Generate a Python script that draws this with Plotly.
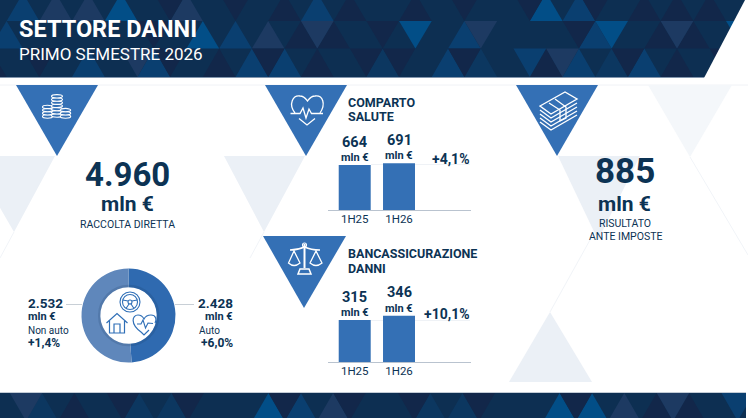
import re
import plotly.graph_objects as go

W, H = 748, 418

# chart values
periods = ["1H25", "1H26"]
salute_values = [664, 691]
banca_values = [315, 346]
salute_growth = "+4,1%"
banca_growth = "+10,1%"
donut_labels = ["Auto", "Non auto"]
donut_values = [2428, 2532]
donut_growth = ["+6,0%", "+1,4%"]
raccolta = "4.960"
risultato = "885"

NAVY = "#0c3354"
BLUE = "#3470b5"
PALE = "#ebf0f6"
FONT = "Roboto"

DARK, MID, BRIGHT, LBLUE, SLATE = "#12274a", "#0c3760", "#024e87", "#0a3f70", "#1d3a62"
HEADER_BASE = "#0d2f52"

# header mosaic: row -> direction -> colour -> rough apex x
header_up = {
    0: {LBLUE: [32, 318, 575], SLATE: [64, 97, 190], BRIGHT: [127, 543], DARK: [287, 349, 413, 641, 671, 703]},
    1: {LBLUE: [15, 235, 463, 585], BRIGHT: [204], SLATE: [268], DARK: [302, 333, 648, 688]},
    2: {DARK: [-10, 215, 318, 543, 671], LBLUE: [95, 160, 250, 287, 447, 575, 640], MID: [383, 480, 606]},
}
header_down = {
    0: {DARK: [160, 240, 463, 526, 593]},
    1: {DARK: [150, 383, 575], SLATE: [318, 479, 671], BRIGHT: [415, 607, 727]},
    2: {DARK: [30, 55, 183, 271, 367, 400, 463, 624, 716], SLATE: [140, 559], LBLUE: [527]},
}
footer_up = {MID: [47, 140, 172, 432, 462], DARK: [75, 660, 691], BRIGHT: [269, 556, 587], LBLUE: [302], SLATE: [334, 619]}
footer_down = {SLATE: [28, 670], DARK: [123, 190, 287, 350, 417, 477, 574], LBLUE: [736]}


def px(x):
    return x / W


def py(y):
    return 1 - y / H


def to_paper(d):
    # pixel svg path -> paper coordinates, only absolute M L C Q Z
    nums = iter(range(100000))

    def conv(m):
        v = float(m.group(0))
        return f"{px(v):.5f}" if next(nums) % 2 == 0 else f"{py(v):.5f}"

    return re.sub(r"-?\d+\.?\d*", conv, d)


shapes = []


def poly(points, color):
    d = "M " + " L ".join(f"{x} {y}" for x, y in points) + " Z"
    shapes.append(dict(type="path", path=to_paper(d), xref="paper", yref="paper",
                       fillcolor=color, line=dict(width=0), layer="below"))


def stroke(d, color="white", width=1.3, layer="above"):
    shapes.append(dict(type="path", path=to_paper(d), xref="paper", yref="paper",
                       line=dict(color=color, width=width), layer=layer))


def hline(x0, x1, y, color, width=1):
    shapes.append(dict(type="line", xref="paper", yref="paper", x0=px(x0), x1=px(x1), y0=py(y), y1=py(y),
                       line=dict(color=color, width=width), layer="below"))


def ellipse(cx, cy, rx, ry, color="white", width=1.2, fill=None):
    shapes.append(dict(type="circle", xref="paper", yref="paper", x0=px(cx - rx), x1=px(cx + rx),
                       y0=py(cy + ry), y1=py(cy - ry), line=dict(color=color, width=width),
                       fillcolor=fill, layer="above"))


def circle(cx, cy, r, color="white", width=1.2, fill=None):
    ellipse(cx, cy, r, r, color, width, fill)


# header
ROWS = [(-7, 21), (21, 48.5), (48.5, 77)]
PITCH = 32.7


def snap(x, start, pitch):
    return start + round((x - start) / pitch) * pitch


poly([(0, 0), (W, 0), (W, 77), (0, 77)], HEADER_BASE)
for row, (top, bottom) in enumerate(ROWS):
    up_start = 6.6 if row == 1 else 23
    down_start = 23 if row == 1 else 6.6
    for color, apexes in header_up[row].items():
        for a in apexes:
            a = snap(a, up_start, PITCH)
            poly([(a, top), (a + PITCH / 2, bottom), (a - PITCH / 2, bottom)], color)
    for color, apexes in header_down[row].items():
        for a in apexes:
            a = snap(a, down_start, PITCH)
            poly([(a, bottom), (a + PITCH / 2, top), (a - PITCH / 2, top)], color)
poly([(745, 0), (W, 0), (W, 78), (704, 78)], "white")
poly([(0, 77), (704.5, 77), (704, 78), (0, 78)], "#8195ad")
hline(0, W, 85, "#f0f2f6")

# footer
poly([(0, 393), (W, 393), (W, H), (0, H)], HEADER_BASE)
for color, apexes in footer_up.items():
    for a in apexes:
        a = snap(a, 42, 32.35)
        poly([(a, 393), (a + 16.2, 421), (a - 16.2, 421)], color)
for color, apexes in footer_down.items():
    for a in apexes:
        a = snap(a, 26, 32.35)
        poly([(a, 421), (a + 16.2, 393), (a - 16.2, 393)], color)
poly([(746, 392), (W, 392), (W, H), (746, H)], "white")
hline(0, 746, 392.5, "#c3ccd6")

# pale background triangles
poly([(-30, 156), (55, 156), (14, 232)], PALE)
poly([(224, 156), (305, 156), (264, 232)], PALE)
poly([(558, 156), (640, 156), (598, 240)], PALE)
poly([(648, 85), (732, 85), (690, 157)], "#f4f7fa")
poly([(550, 312), (592, 382), (509, 382)], PALE)
for d in ["M 690 157 L 748 255", "M 550 312 L 590 240", "M 14 232 L 0 258", "M 264 232 L 250 258"]:
    stroke(d, "#f1f4f8", 1, "below")

# blue triangles
poly([(16, 85), (98, 85), (57, 156)], BLUE)
poly([(265, 85), (347, 85), (306, 156)], BLUE)
poly([(516, 85), (598, 85), (557, 156)], BLUE)
poly([(263, 236), (346, 236), (304, 308)], BLUE)

# coins icon, three stacks drawn from the bottom up
for cx, rx, y_bottom, n in [(47.5, 5, 116.5, 4), (57, 5.5, 115.5, 7), (65.5, 5.2, 116.5, 3)]:
    for i in range(n):
        ellipse(cx, y_bottom - i * 3.2, rx, 1.7, width=1.1, fill=BLUE)

# heart icon
stroke("M 295 113 C 288 104 293 95 300 96 C 304 96 306 99 307.5 101 C 309 99 311 96 315 96 "
       "C 323 95 326 104 320 113")
stroke("M 290.5 113.5 L 300 113.5 L 303 108 L 306 118 L 309 109 L 311.5 113.5 L 323 113.5")
stroke("M 299 118.5 L 307 125 L 315 118.5")

# scales icon
stroke("M 304.5 244 L 304.5 268", width=2)
stroke("M 290 250 Q 298 250 304.5 247 Q 311 250 320 250", width=1.6)
stroke("M 294 251 L 288.5 263 Q 294 268 300 263 Z")
stroke("M 316 251 L 310 263 Q 316 268 322 263 Z")
stroke("M 298 274 L 311 274 L 309 269 L 300 269 Z", width=1.5)
circle(304.5, 245, 2, width=1.1)

# money icon
stroke("M 540 106 L 565 92 L 577 99 L 551 114 Z", width=1.4)
for dy in [4, 8, 12, 16]:
    stroke(f"M 540 {106 + dy} L 551 {114 + dy} L 577 {99 + dy}", width=1.4)
stroke("M 555 99 L 566 107 L 566 118 L 560 121 L 560 110 L 549 103", width=1.3)

# donut inner ring and icons
ICON = "#2f6fb7"
circle(128.7, 315.5, 29.5, color="rgba(20,50,90,0.16)", width=2.5)
circle(130, 302, 10, color=ICON, width=1.1)
circle(130, 302, 7.5, color=ICON, width=1.1)
circle(130, 302, 2, color=ICON, width=1.1)
stroke("M 122.8 300 L 128 301 M 137.2 300 L 132 301 M 129 304 L 126 308.5 M 131 304 L 134 308.5", ICON, 1.1)
stroke("M 106.5 323 L 117 313.5 L 127.5 323 M 109.5 321 L 109.5 333 L 124.5 333 L 124.5 321 "
       "M 114 333 L 114 324 L 120 324 L 120 333", ICON, 1.2)
stroke("M 141 332 C 130 324 132 315 138 315 C 141 315 143 317 144 319 C 145 317 148 315 151 315 "
       "C 156 315 157 320 155 323 M 141 332 L 144 335 L 149 330", ICON, 1.2)
stroke("M 137 324 L 141 324 L 143 320 L 145.5 328 L 148 323 L 153 323.5", ICON, 1.1)

# connector lines, faint lines at bar tops
hline(66, 82, 304.5, "#c8cfd6")
hline(175, 194, 304.5, "#c8cfd6")
hline(371, 470, 164.5, "#eff2f6")
hline(371, 470, 320.5, "#eff2f6")

annotations = []


def label(x, y, text, size, bold=False, anchor="center", color=NAVY):
    annotations.append(dict(x=px(x), y=py(y), xref="paper", yref="paper", text=f"<b>{text}</b>" if bold else text,
                            showarrow=False, xanchor=anchor, yanchor="middle", borderpad=0,
                            font=dict(family=FONT, size=size, color=color)))


label(18, 29, "SETTORE DANNI", 23.5, True, "left", "white")
label(18, 54, "PRIMO SEMESTRE 2026", 17, False, "left", "white")

label(127, 174, raccolta, 33, True)
label(127, 204, "mln €", 21, True)
label(128, 224, "RACCOLTA DIRETTA", 10.5)

label(625, 171, risultato, 35, True)
label(624, 204, "mln €", 21, True)
label(625, 223.5, "RISULTATO", 10.5)
label(625, 236.5, "ANTE IMPOSTE", 10.5)

label(347, 102, "COMPARTO", 12.5, True, "left")
label(347, 117, "SALUTE", 12.5, True, "left")
label(347, 253, "BANCASSICURAZIONE", 12.5, True, "left")
label(347, 268, "DANNI", 12.5, True, "left")

label(471, 159, salute_growth, 14, True, "right")
label(471, 314, banca_growth, 14, True, "right")

# donut side labels
label(27, 303, f"{donut_values[1]:,}".replace(",", "."), 13.5, True, "left")
label(27, 316, "mln €", 11, True, "left")
label(27, 330, donut_labels[1], 10, False, "left")
label(27, 343, donut_growth[1], 12, True, "left")
label(234, 303, f"{donut_values[0]:,}".replace(",", "."), 13.5, True, "right")
label(234, 316, "mln €", 11, True, "right")
label(198, 330, donut_labels[0], 10, False, "left")
label(234, 343, donut_growth[0], 12, True, "right")

fig = go.Figure()

fig.add_trace(go.Pie(labels=donut_labels, values=donut_values, hole=0.6, sort=False, direction="clockwise",
                     rotation=0, textinfo="none", showlegend=False,
                     marker=dict(colors=["#2f6ab0", "#5f87bb"], line=dict(width=0)),
                     domain=dict(x=[px(81.5), px(175.5)], y=[py(362.5), py(268.5)])))

# bar panels
panels = [
    ("x", "y", salute_values, [0, 700], 210, 162.6),
    ("x2", "y2", banca_values, [0, 360], 362, 314),
]
for xa, ya, values, yrange, base_y, top_y in panels:
    fig.add_trace(go.Bar(x=periods, y=values, xaxis=xa, yaxis=ya, width=0.722,
                         marker=dict(color=BLUE, line=dict(width=0)), showlegend=False))
    suffix = xa[1:]
    fig.update_layout({
        f"xaxis{suffix}": dict(domain=[px(328), px(471)], range=[-0.603, 2.625], anchor=ya, type="category",
                               showgrid=False, showline=True, linecolor="#b9c3cf", linewidth=1, ticks="",
                               tickfont=dict(family=FONT, size=11.5, color=NAVY), ticklen=0, zeroline=False,
                               ticklabelstandoff=-2, fixedrange=True),
        f"yaxis{suffix}": dict(domain=[py(base_y), py(top_y)], range=yrange, anchor=xa, visible=False,
                               fixedrange=True),
    })
    for p, v in zip(periods, values):
        annotations.append(dict(x=p, y=v, xref=xa, yref=ya, text=f"<b>{v}</b>", showarrow=False,
                                yanchor="bottom", yshift=12.5, font=dict(family=FONT, size=14.5, color=NAVY)))
        annotations.append(dict(x=p, y=v, xref=xa, yref=ya, text="<b>mln €</b>", showarrow=False,
                                yanchor="bottom", yshift=-1, font=dict(family=FONT, size=11, color=NAVY)))

fig.update_layout(width=W, height=H, margin=dict(l=0, r=0, t=0, b=0), paper_bgcolor="white",
                  plot_bgcolor="rgba(0,0,0,0)", shapes=shapes, annotations=annotations, bargap=0.2)

# the page has a default body margin, the figure has to sit at 0,0
fig.write_html("out.html", config=dict(displayModeBar=False), post_script="document.body.style.margin='0';")
